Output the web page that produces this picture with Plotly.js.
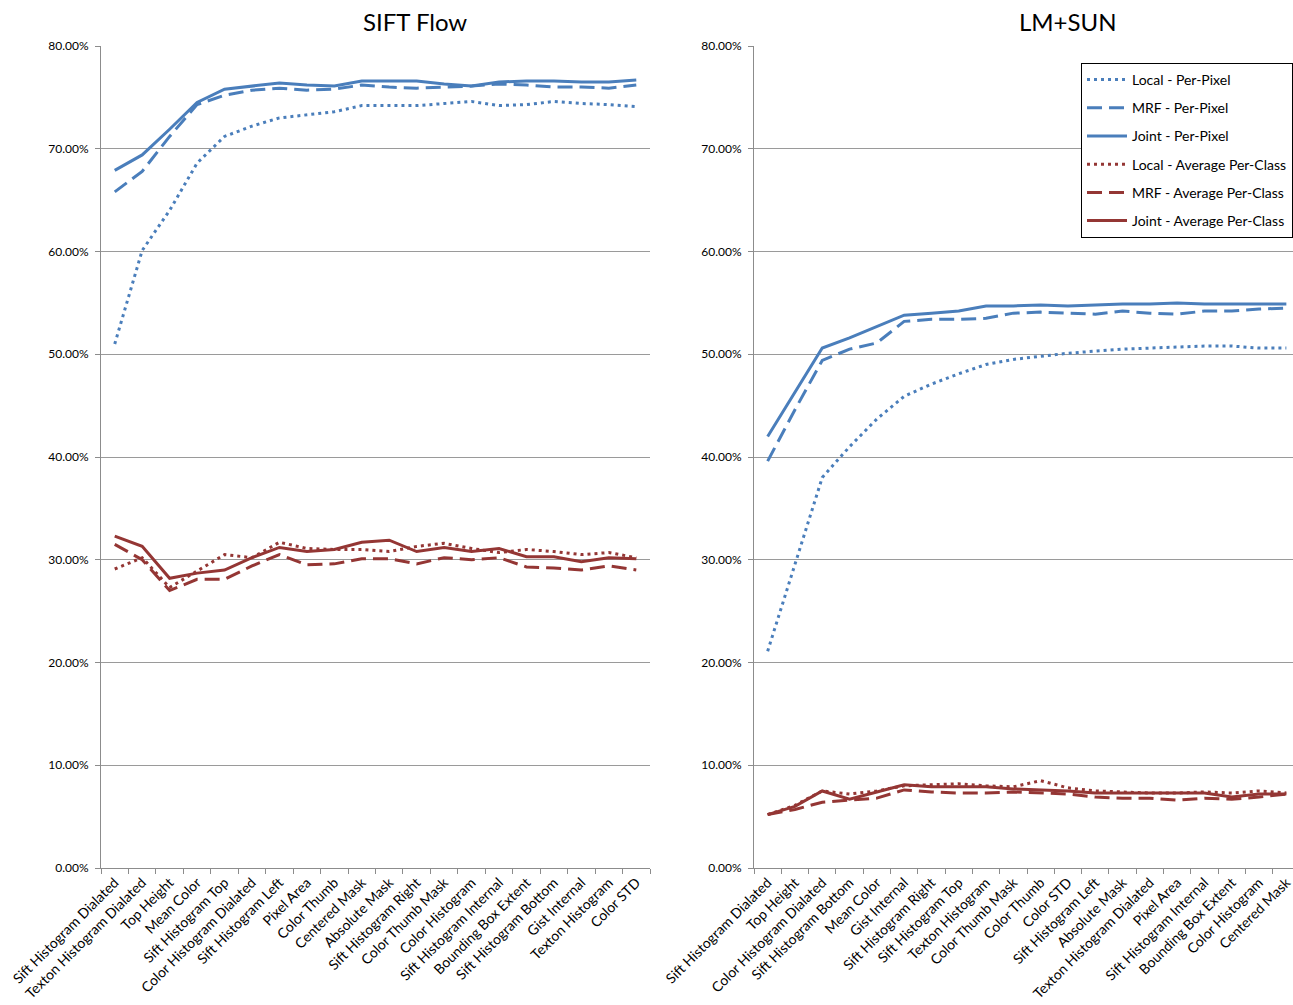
<!DOCTYPE html>
<html>
<head>
<meta charset="utf-8">
<script src="https://cdn.plot.ly/plotly-3.0.1.min.js"></script>
<style>
  html, body { margin: 0; padding: 0; overflow: hidden; background: #fff; }
  #chart { width: 1310px; height: 1005px; }
</style>
</head>
<body>
<div id="chart"></div>
<script>
// ---- Data ----
const catsSiftFlow = ["Sift Histogram Dialated", "Texton Histogram Dialated", "Top Height", "Mean Color",
  "Sift Histogram Top", "Color Histogram Dialated", "Sift Histogram Left", "Pixel Area", "Color Thumb",
  "Centered Mask", "Absolute Mask", "Sift Histogram Right", "Color Thumb Mask", "Color Histogram",
  "Sift Histogram Internal", "Bounding Box Extent", "Sift Histogram Bottom", "Gist Internal",
  "Texton Histogram", "Color STD"];
const catsLmSun = ["Sift Histogram Dialated", "Top Height", "Color Histogram Dialated", "Sift Histogram Bottom",
  "Mean Color", "Gist Internal", "Sift Histogram Right", "Sift Histogram Top", "Texton Histogram",
  "Color Thumb Mask", "Color Thumb", "Color STD", "Sift Histogram Left", "Absolute Mask",
  "Texton Histogram Dialated", "Pixel Area", "Sift Histogram Internal", "Bounding Box Extent",
  "Color Histogram", "Centered Mask"];

const seriesNames = ["Local - Per-Pixel", "MRF - Per-Pixel", "Joint - Per-Pixel",
  "Local - Average Per-Class", "MRF - Average Per-Class", "Joint - Average Per-Class"];

// SIFT Flow (percent)
const sfLocalPixel = [51.0, 60.1, 64.0, 68.6, 71.2, 72.2, 73.0, 73.3, 73.6, 74.2, 74.2, 74.2, 74.4, 74.6, 74.2, 74.3, 74.6, 74.4, 74.3, 74.1];
const sfMrfPixel   = [65.8, 67.8, 71.2, 74.3, 75.2, 75.7, 75.9, 75.7, 75.8, 76.2, 76.0, 75.9, 76.0, 76.1, 76.3, 76.2, 76.0, 76.0, 75.9, 76.2];
const sfJointPixel = [67.9, 69.4, 71.9, 74.5, 75.8, 76.1, 76.4, 76.2, 76.1, 76.6, 76.6, 76.6, 76.3, 76.1, 76.5, 76.6, 76.6, 76.5, 76.5, 76.7];
const sfLocalClass = [29.1, 30.2, 27.3, 28.9, 30.5, 30.2, 31.7, 31.1, 31.0, 31.0, 30.8, 31.3, 31.6, 31.1, 30.7, 31.0, 30.8, 30.5, 30.7, 30.2];
const sfMrfClass   = [31.5, 30.0, 27.0, 28.1, 28.1, 29.4, 30.5, 29.5, 29.6, 30.1, 30.1, 29.6, 30.2, 30.0, 30.2, 29.3, 29.2, 29.0, 29.4, 29.0];
const sfJointClass = [32.3, 31.3, 28.2, 28.7, 29.0, 30.2, 31.2, 30.8, 31.0, 31.7, 31.9, 30.8, 31.2, 30.8, 31.1, 30.3, 30.3, 29.8, 30.2, 30.1];

// LM+SUN (percent)
const lmLocalPixel = [21.1, 29.5, 38.0, 41.0, 43.7, 45.9, 47.1, 48.1, 49.0, 49.5, 49.8, 50.1, 50.3, 50.5, 50.6, 50.7, 50.8, 50.8, 50.6, 50.6];
const lmMrfPixel   = [39.6, 44.6, 49.4, 50.5, 51.1, 53.2, 53.4, 53.4, 53.5, 54.0, 54.1, 54.0, 53.9, 54.2, 54.0, 53.9, 54.2, 54.2, 54.4, 54.5];
const lmJointPixel = [42.0, 46.3, 50.6, 51.6, 52.7, 53.8, 54.0, 54.2, 54.7, 54.7, 54.8, 54.7, 54.8, 54.9, 54.9, 55.0, 54.9, 54.9, 54.9, 54.9];
const lmLocalClass = [5.2, 6.1, 7.5, 7.2, 7.5, 8.0, 8.1, 8.2, 8.0, 7.9, 8.5, 7.8, 7.5, 7.4, 7.3, 7.3, 7.4, 7.3, 7.5, 7.3];
const lmMrfClass   = [5.2, 5.7, 6.4, 6.6, 6.8, 7.6, 7.4, 7.3, 7.3, 7.4, 7.3, 7.2, 6.9, 6.8, 6.8, 6.6, 6.8, 6.7, 6.9, 7.2];
const lmJointClass = [5.2, 6.0, 7.5, 6.7, 7.4, 8.1, 7.9, 7.9, 7.9, 7.7, 7.6, 7.5, 7.3, 7.3, 7.3, 7.3, 7.3, 6.9, 7.2, 7.2];

const yTickVals = [0, 10, 20, 30, 40, 50, 60, 70, 80];
const yTickText = ["0.00%", "10.00%", "20.00%", "30.00%", "40.00%", "50.00%", "60.00%", "70.00%", "80.00%"];
const chartTitles = ["SIFT Flow", "LM+SUN"];

// ---- Styles ----
const BLUE = "#4a7ebb";
const RED = "#943634";
const styles = [
  {color: BLUE, dash: "3px,4px"},
  {color: BLUE, dash: "15px,7px"},
  {color: BLUE, dash: "solid"},
  {color: RED, dash: "3px,4px"},
  {color: RED, dash: "15px,7px"},
  {color: RED, dash: "solid"}
];
const FONT = "Lato, 'Open Sans', sans-serif";

const sfSeries = [sfLocalPixel, sfMrfPixel, sfJointPixel, sfLocalClass, sfMrfClass, sfJointClass];
const lmSeries = [lmLocalPixel, lmMrfPixel, lmJointPixel, lmLocalClass, lmMrfClass, lmJointClass];

const traces = [];
sfSeries.forEach((ys, i) => {
  traces.push({
    x: catsSiftFlow, y: ys, xaxis: "x", yaxis: "y", type: "scatter", mode: "lines",
    name: seriesNames[i], showlegend: false, hoverinfo: "skip",
    line: {color: styles[i].color, dash: styles[i].dash, width: 3}
  });
});
lmSeries.forEach((ys, i) => {
  traces.push({
    x: catsLmSun, y: ys, xaxis: "x2", yaxis: "y2", type: "scatter", mode: "lines",
    name: seriesNames[i], legendgroup: "g" + i, showlegend: true, hoverinfo: "skip",
    line: {color: styles[i].color, dash: styles[i].dash, width: 3}
  });
});

const W = 1310, H = 1005;
const px = v => v / W;
const py = v => (H - v) / H;

const xBase = {
  type: "category", tickson: "boundaries", ticks: "outside", ticklen: 5, tickcolor: "#8c8c8c",
  range: [-0.5, 19.5],
  showline: true, linecolor: "#8c8c8c", linewidth: 1, showgrid: false, zeroline: false,
  tickangle: -45, tickfont: {family: FONT, size: 14, color: "#000"}, automargin: false
};
const yBase = {
  range: [0, 80], tickmode: "array", tickvals: yTickVals, ticktext: yTickText,
  ticks: "outside", ticklen: 5, tickcolor: "#8c8c8c", ticklabelstandoff: 4,
  showline: true, linecolor: "#8c8c8c", linewidth: 1,
  showgrid: true, gridcolor: "#9a9a9a", gridwidth: 1, zeroline: false,
  tickfont: {family: FONT, size: 12, color: "#000"}, automargin: false
};

const layout = {
  width: W, height: H,
  margin: {l: 0, r: 0, t: 0, b: 0},
  paper_bgcolor: "#fff", plot_bgcolor: "#fff",
  font: {family: FONT, color: "#000"},
  xaxis: Object.assign({}, xBase, {domain: [px(101), px(650)], anchor: "y"}),
  yaxis: Object.assign({}, yBase, {domain: [py(868), py(46)], anchor: "x"}),
  xaxis2: Object.assign({}, xBase, {domain: [px(754), px(1300)], anchor: "y2"}),
  yaxis2: Object.assign({}, yBase, {domain: [py(868), py(46)], anchor: "x2"}),
  legend: {
    x: px(1081), y: py(63), xanchor: "left", yanchor: "top",
    bordercolor: "#000", borderwidth: 1, bgcolor: "#fff",
    font: {family: FONT, size: 14, color: "#000"},
    traceorder: "grouped", tracegroupgap: 7, itemwidth: 40
  },
  annotations: [
    {text: chartTitles[0], x: px(415), y: py(22), xref: "paper", yref: "paper",
     showarrow: false, xanchor: "center", yanchor: "middle", font: {family: FONT, size: 24, color: "#000"}},
    {text: chartTitles[1], x: px(1068), y: py(22), xref: "paper", yref: "paper",
     showarrow: false, xanchor: "center", yanchor: "middle", font: {family: FONT, size: 24, color: "#000"}}
  ],
  showlegend: true
};

Plotly.newPlot("chart", traces, layout, {staticPlot: true, displayModeBar: false});
</script>
</body>
</html>
